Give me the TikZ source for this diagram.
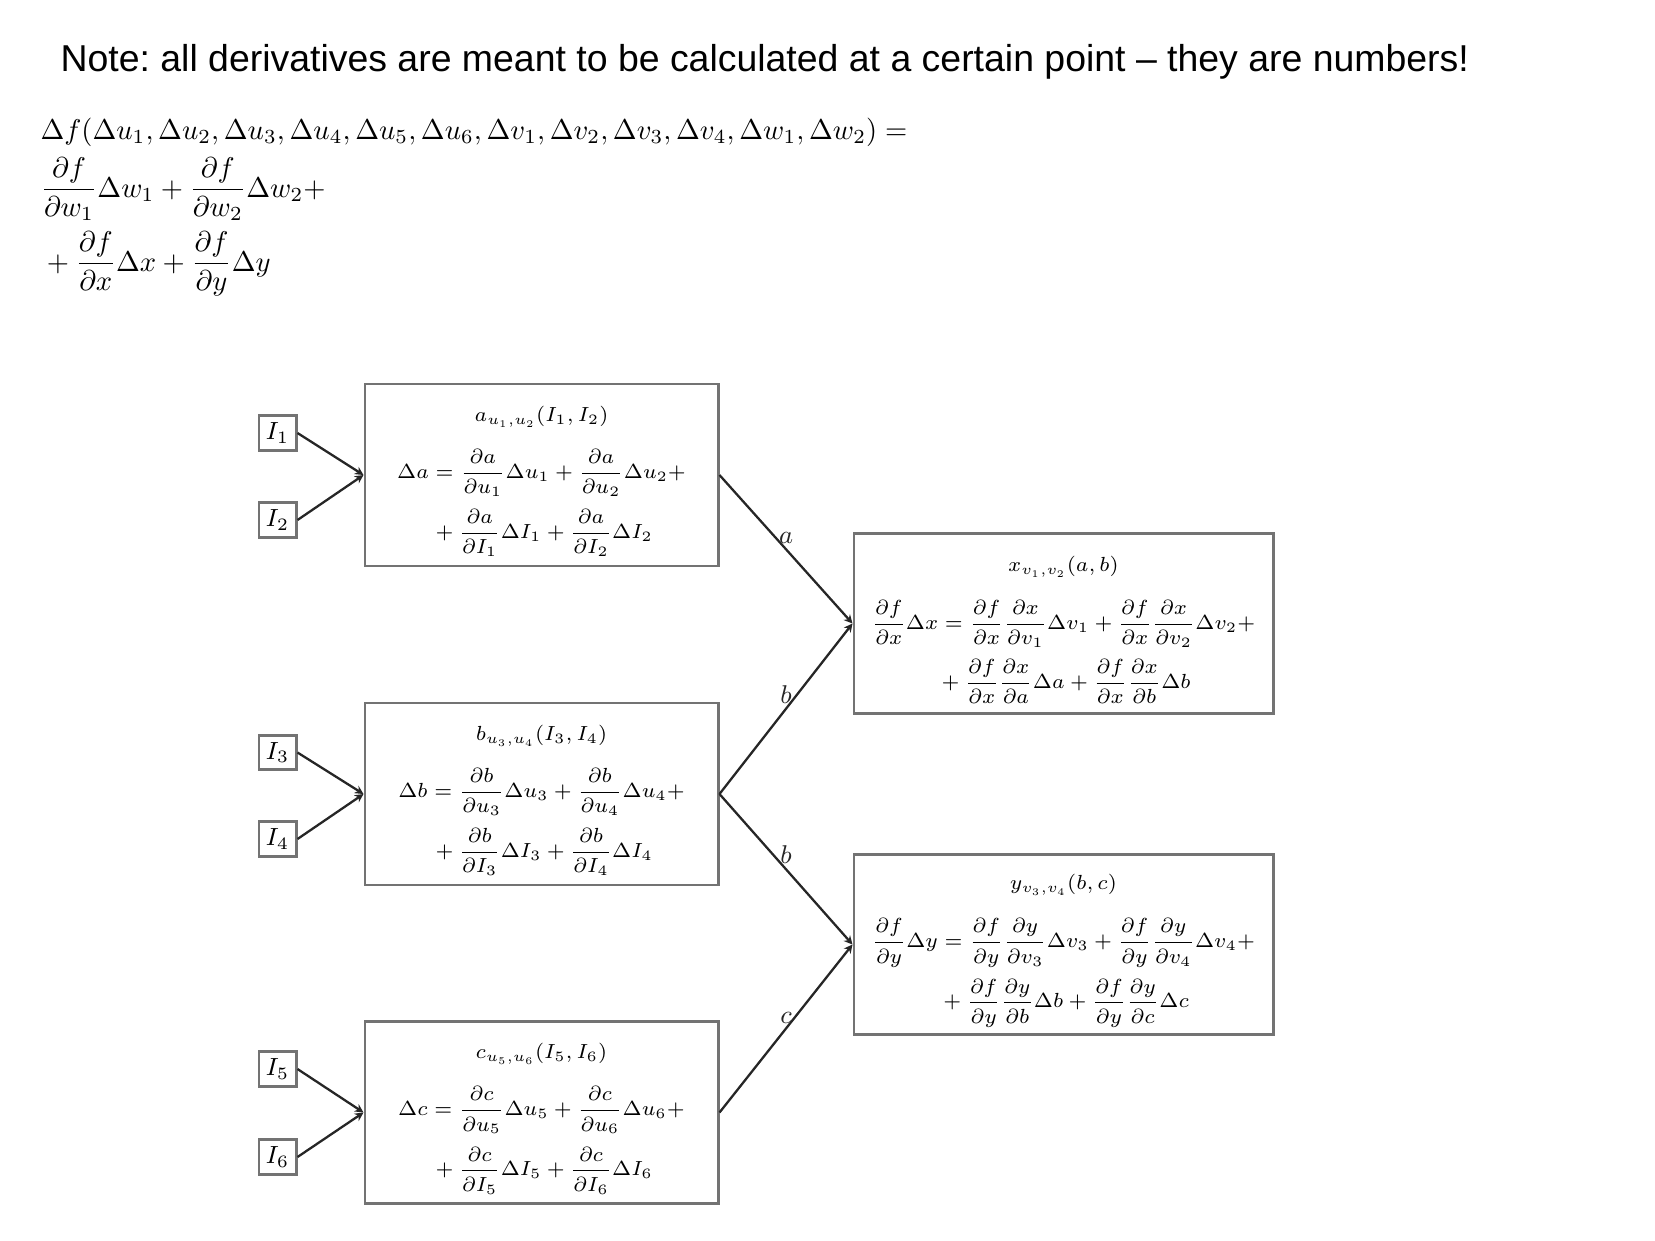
\documentclass[tikz,border=0pt]{standalone}
\usepackage{fix-cm}
\usepackage{amsmath}
\usepackage{amssymb}
\usepackage{fontspec}
\newfontfamily\notefont{Liberation Sans}
\usepackage{tikz}
\usetikzlibrary{arrows.meta}
\tikzset{>/.tip={Stealth[length=3pt,width=3pt]},
  fbox/.style={draw=black!55, line width=1pt, align=center, inner sep=0pt,
    font=\fontsize{7.15}{8.5}\selectfont},
  lbox/.style={fbox, minimum width=123.6pt, minimum height=63.7pt},
  rbox/.style={fbox, minimum width=146.7pt, minimum height=63pt},
  ibox/.style={draw=black!55, line width=1pt, minimum width=13pt, minimum height=12pt, inner sep=1pt,
    font=\fontsize{8.7}{10}\selectfont},
  link/.style={->, line width=0.8pt, black!85},
  lab/.style={above, font=\small, inner sep=1.5pt},
  eqline/.style={anchor=base west, inner sep=0pt}}
\newcommand{\dpt}[2]{\dfrac{\partial #1}{\partial #2}}
\newcommand{\tstrut}{\rule{0pt}{9.8pt}}

\begin{document}
\begin{tikzpicture}[x=0.35pt, y=-0.35pt]
\useasboundingbox (0,0) rectangle (1655,1240);

\node[eqline, font=\notefont\fontsize{13.1}{15}\selectfont\frenchspacing] (note) at (60,71) {Note: all derivatives are meant to be calculated at a certain point – they are numbers!};

\node[eqline] (eqf) at (40,139) {$\Delta f(\Delta u_1,\Delta u_2,\Delta u_3,\Delta u_4,\Delta u_5,\Delta u_6,\Delta v_1,\Delta v_2,\Delta v_3,\Delta v_4,\Delta w_1,\Delta w_2)=$};
\node[eqline] (eqw) at (40,197) {$\displaystyle \dpt{f}{w_1}\Delta w_1+\dpt{f}{w_2}\Delta w_2+$};
\node[eqline] (eqxy) at (40,271) {$\displaystyle {}+\dpt{f}{x}\Delta x+\dpt{f}{y}\Delta y$};

\node[lbox] (A) at (541.5,475) {\tstrut$a_{u_1,u_2}(I_1,I_2)$\\[6.7pt]
  $\displaystyle \Delta a=\dpt{a}{u_1}\Delta u_1+\dpt{a}{u_2}\Delta u_2+$\\[3.5pt]
  $\displaystyle {}+\dpt{a}{I_1}\Delta I_1+\dpt{a}{I_2}\Delta I_2$};
\node[lbox] (B) at (541.5,794) {\tstrut$b_{u_3,u_4}(I_3,I_4)$\\[6.7pt]
  $\displaystyle \Delta b=\dpt{b}{u_3}\Delta u_3+\dpt{b}{u_4}\Delta u_4+$\\[3.5pt]
  $\displaystyle {}+\dpt{b}{I_3}\Delta I_3+\dpt{b}{I_4}\Delta I_4$};
\node[lbox] (C) at (541.5,1112.5) {\tstrut$c_{u_5,u_6}(I_5,I_6)$\\[6.7pt]
  $\displaystyle \Delta c=\dpt{c}{u_5}\Delta u_5+\dpt{c}{u_6}\Delta u_6+$\\[3.5pt]
  $\displaystyle {}+\dpt{c}{I_5}\Delta I_5+\dpt{c}{I_6}\Delta I_6$};

\node[rbox] (X) at (1063.5,623.5) {\tstrut$x_{v_1,v_2}(a,b)$\\[7.1pt]
  $\displaystyle \dpt{f}{x}\Delta x=\dpt{f}{x}\dpt{x}{v_1}\Delta v_1+\dpt{f}{x}\dpt{x}{v_2}\Delta v_2+$\\[3.1pt]
  $\displaystyle {}+\dpt{f}{x}\dpt{x}{a}\Delta a+\dpt{f}{x}\dpt{x}{b}\Delta b$};
\node[rbox] (Y) at (1063.5,944.5) {\tstrut$y_{v_3,v_4}(b,c)$\\[7.1pt]
  $\displaystyle \dpt{f}{y}\Delta y=\dpt{f}{y}\dpt{y}{v_3}\Delta v_3+\dpt{f}{y}\dpt{y}{v_4}\Delta v_4+$\\[3.1pt]
  $\displaystyle {}+\dpt{f}{y}\dpt{y}{b}\Delta b+\dpt{f}{y}\dpt{y}{c}\Delta c$};

\node[ibox] (I1) at (277.5,433) {$I_1$};
\node[ibox] (I2) at (277.5,520) {$I_2$};
\node[ibox] (I3) at (277.5,752.5) {$I_3$};
\node[ibox] (I4) at (277.5,839) {$I_4$};
\node[ibox] (I5) at (277.5,1069) {$I_5$};
\node[ibox] (I6) at (277.5,1157) {$I_6$};

\draw[link] (I1.east) -- (A.west);
\draw[link] (I2.east) -- (A.west);
\draw[link] (I3.east) -- (B.west);
\draw[link] (I4.east) -- (B.west);
\draw[link] (I5.east) -- (C.west);
\draw[link] (I6.east) -- (C.west);

\draw[link] (A.east) -- node[lab] {$a$} (X.west);
\draw[link] (B.east) -- node[lab] {$b$} (X.west);
\draw[link] (B.east) -- node[lab] {$b$} (Y.west);
\draw[link] (C.east) -- node[lab] {$c$} (Y.west);
\end{tikzpicture}
\end{document}
